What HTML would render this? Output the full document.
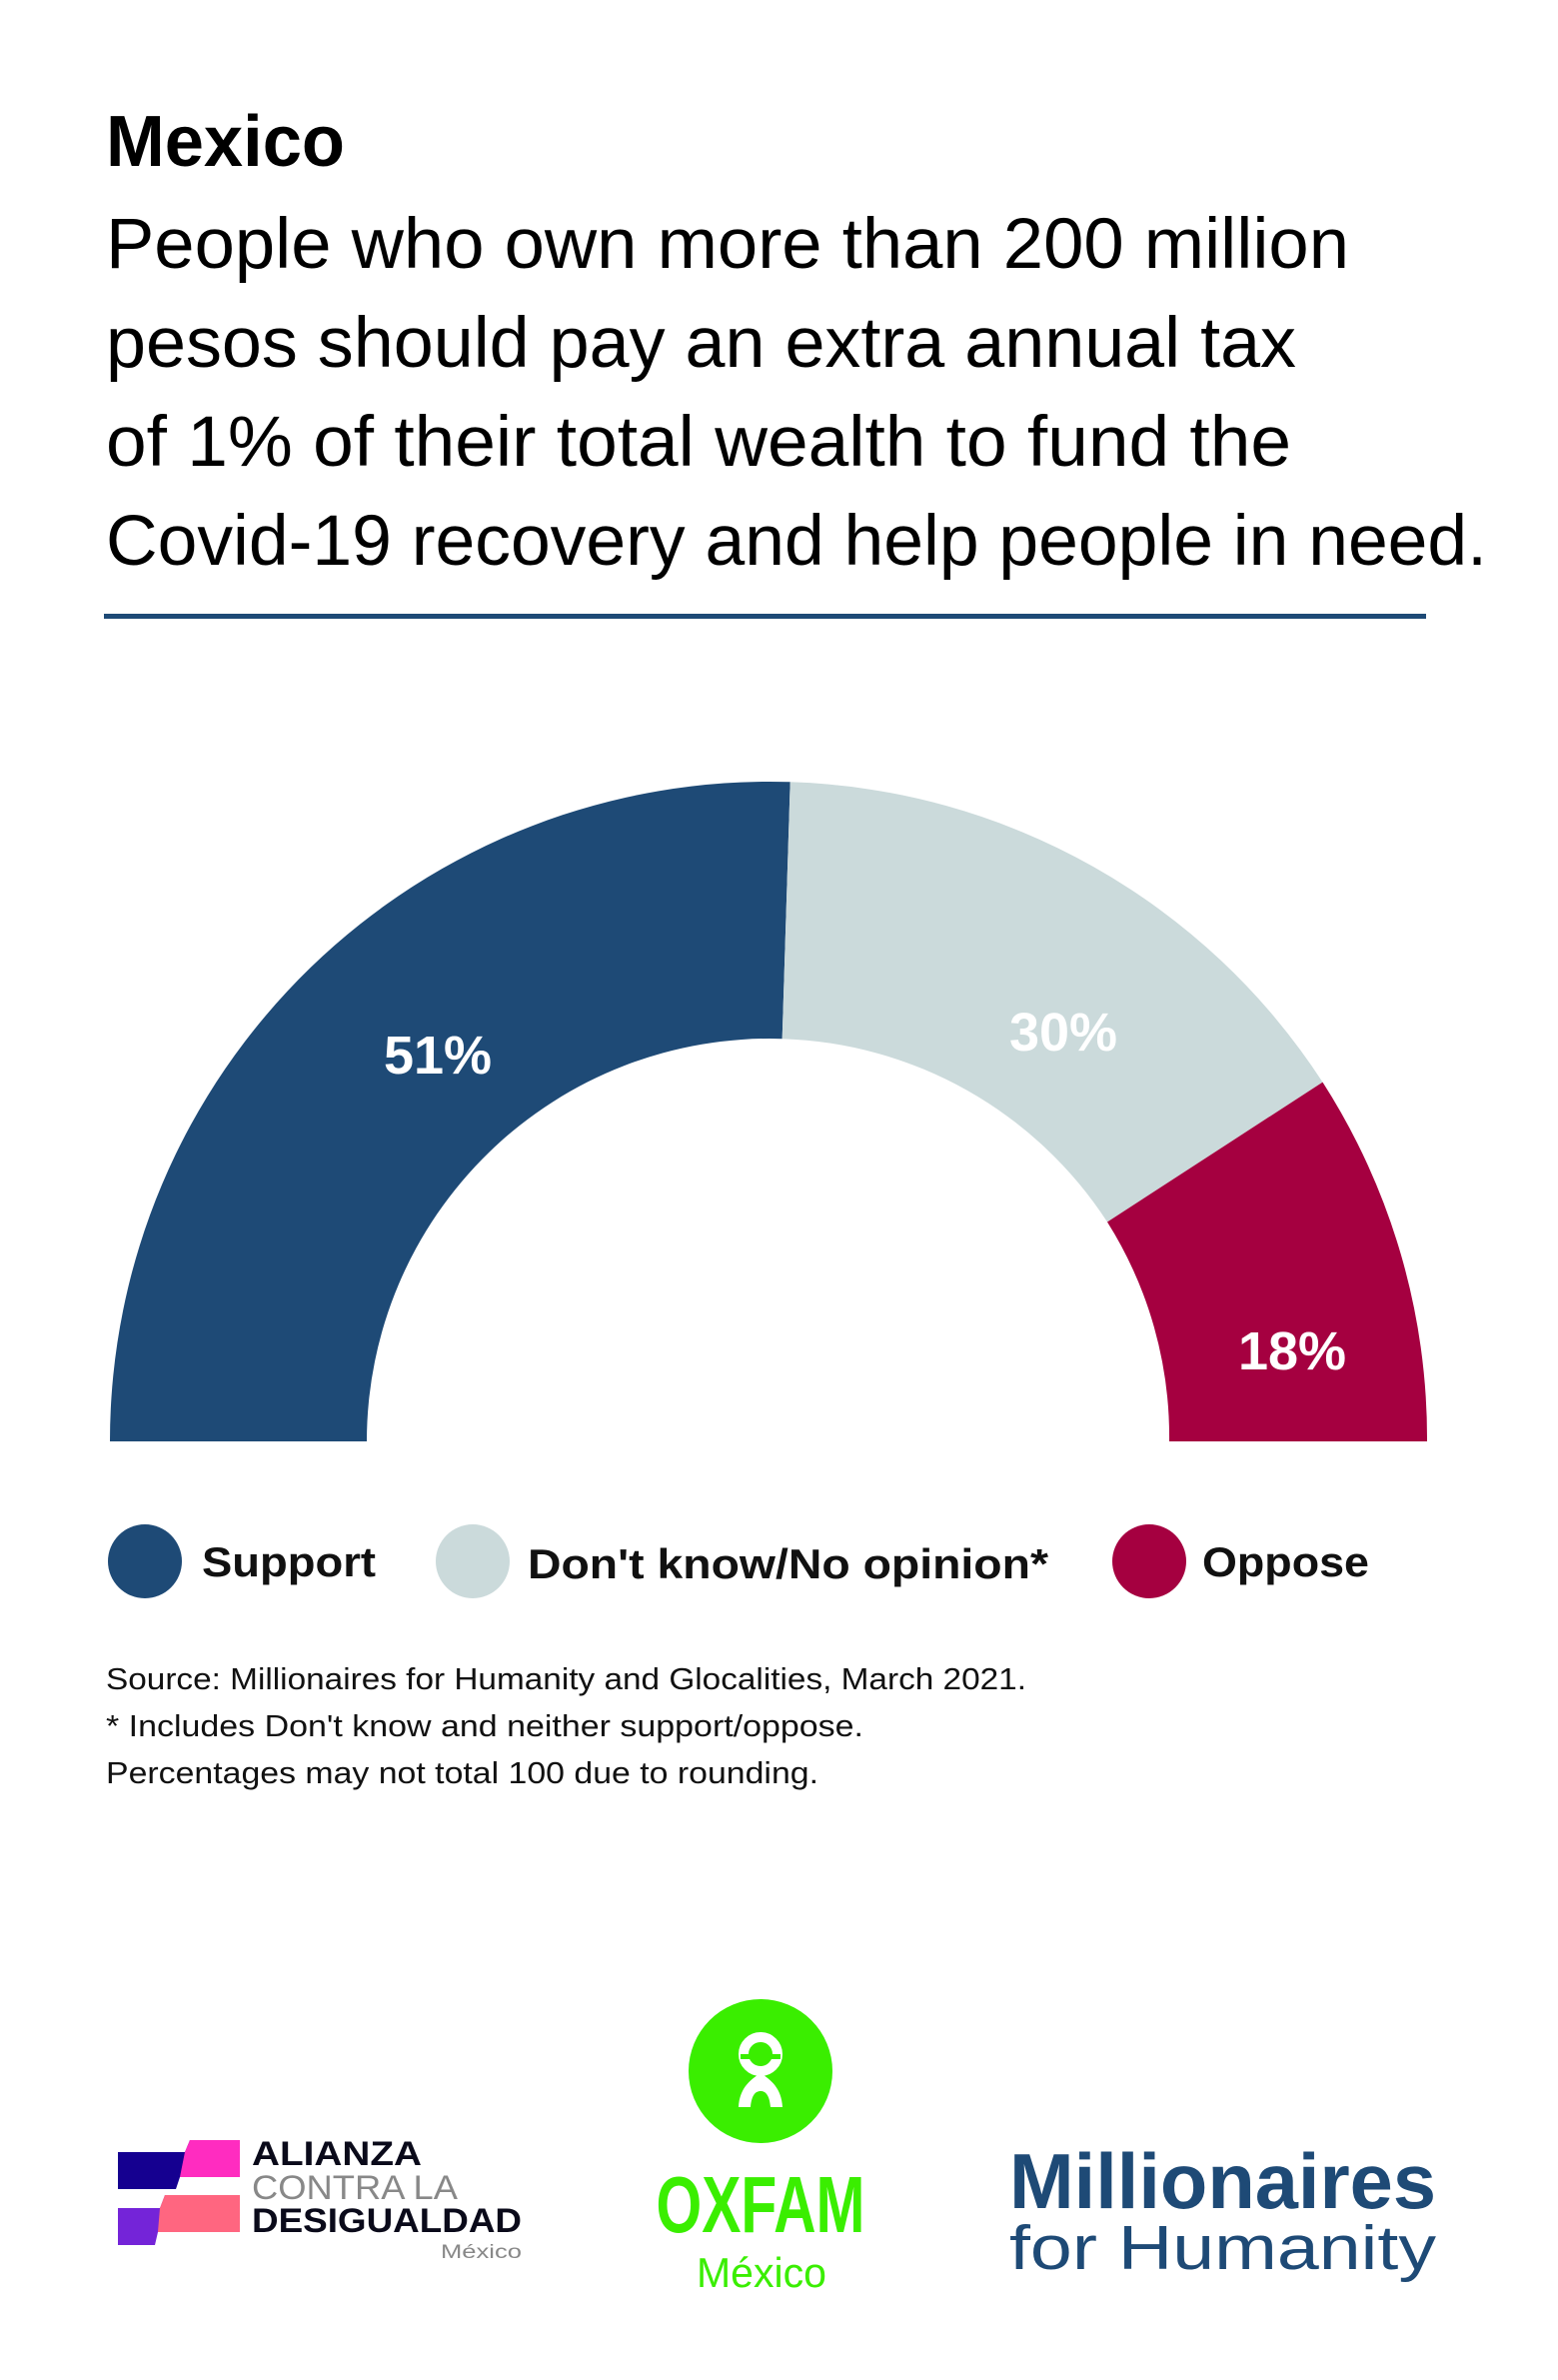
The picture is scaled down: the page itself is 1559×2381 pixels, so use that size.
<!DOCTYPE html>
<html><head><meta charset="utf-8"><style>
html,body{margin:0;padding:0;background:#fff;}
svg{display:block;}
</style></head><body>
<svg width="1559" height="2381" viewBox="0 0 1559 2381" xmlns="http://www.w3.org/2000/svg" font-family="'Liberation Sans', sans-serif">
<rect width="1559" height="2381" fill="#fff"/>
<text x="106" y="166" font-size="72" font-weight="bold" fill="#000" textLength="239" lengthAdjust="spacingAndGlyphs">Mexico</text>
<g font-size="71" fill="#000">
<text x="106" y="268" textLength="1244" lengthAdjust="spacingAndGlyphs">People who own more than 200 million</text>
<text x="106" y="367" textLength="1191" lengthAdjust="spacingAndGlyphs">pesos should pay an extra annual tax</text>
<text x="106" y="466" textLength="1186" lengthAdjust="spacingAndGlyphs">of 1% of their total wealth to fund the</text>
<text x="106" y="565" textLength="1382" lengthAdjust="spacingAndGlyphs">Covid-19 recovery and help people in need.</text>
</g>
<rect x="104" y="614" width="1323" height="5" fill="#1e4a76"/>
<path d="M110,1442 A660,660 0 0 1 790.7,782.3 L782.7,1039.2 A403,403 0 0 0 367,1442 Z" fill="#1e4a76"/>
<path d="M790.7,782.3 A660,660 0 0 1 1323.5,1082.6 L1108,1222.5 A403,403 0 0 0 782.7,1039.2 Z" fill="#cbdadb"/>
<path d="M1323.5,1082.6 A660,660 0 0 1 1428,1442 L1170,1442 A403,403 0 0 0 1108,1222.5 Z" fill="#a50040"/>
<g font-size="54" font-weight="bold" fill="#fff" text-anchor="middle">
<text x="438" y="1074">51%</text>
<text x="1064" y="1051">30%</text>
<text x="1293" y="1370">18%</text>
</g>
<circle cx="145" cy="1562" r="37" fill="#1e4a76"/>
<circle cx="473" cy="1562" r="37" fill="#cbdadb"/>
<circle cx="1150" cy="1562" r="37" fill="#a50040"/>
<g font-size="42" font-weight="bold" fill="#111">
<text x="202" y="1577" textLength="174" lengthAdjust="spacingAndGlyphs">Support</text>
<text x="528" y="1579" textLength="521" lengthAdjust="spacingAndGlyphs">Don't know/No opinion*</text>
<text x="1203" y="1577" textLength="167" lengthAdjust="spacingAndGlyphs">Oppose</text>
</g>
<g font-size="31" fill="#111">
<text x="106" y="1690" textLength="921" lengthAdjust="spacingAndGlyphs">Source: Millionaires for Humanity and Glocalities, March 2021.</text>
<text x="106" y="1737" textLength="758" lengthAdjust="spacingAndGlyphs">* Includes Don't know and neither support/oppose.</text>
<text x="106" y="1784" textLength="713" lengthAdjust="spacingAndGlyphs">Percentages may not total 100 due to rounding.</text>
</g>
<!-- Alianza logo -->
<polygon points="118,2153 185,2153 190,2141 240,2141 240,2178 180,2178 176,2190 118,2190" fill="#150090"/>
<polygon points="185,2153 190,2141 240,2141 240,2178 180,2178" fill="#ff2cc0"/>
<polygon points="118,2209 160,2209 165,2196 240,2196 240,2233 158,2233 155,2246 118,2246" fill="#7424d8"/>
<polygon points="160,2209 165,2196 240,2196 240,2233 158,2233" fill="#ff6680"/>
<text x="252" y="2166" font-size="34" font-weight="bold" fill="#0a0a1a" textLength="170" lengthAdjust="spacingAndGlyphs">ALIANZA</text>
<text x="252" y="2200" font-size="34" fill="#888" textLength="206" lengthAdjust="spacingAndGlyphs">CONTRA LA</text>
<text x="252" y="2233" font-size="34" font-weight="bold" fill="#0a0a1a" textLength="270" lengthAdjust="spacingAndGlyphs">DESIGUALDAD</text>
<text x="441" y="2259" font-size="19" fill="#888" textLength="81" lengthAdjust="spacingAndGlyphs">México</text>
<!-- Oxfam logo -->
<circle cx="761" cy="2072" r="72" fill="#3aee00"/>
<circle cx="761" cy="2055" r="17" fill="none" stroke="#fff" stroke-width="10"/>
<rect x="741" y="2055" width="40" height="5" fill="#3aee00"/>
<path d="M739,2108 C740,2088 752,2080 761,2074 C770,2080 782,2088 783,2108 L771,2108 C770,2096 766,2092 761,2092 C756,2092 752,2096 751,2108 Z" fill="#fff"/>
<text x="761" y="2233" font-size="80" font-weight="bold" fill="#3aee00" text-anchor="middle" textLength="209" lengthAdjust="spacingAndGlyphs">OXFAM</text>
<text x="762" y="2288" font-size="42" fill="#3aee00" text-anchor="middle" textLength="130" lengthAdjust="spacingAndGlyphs">México</text>
<!-- Millionaires logo -->
<text x="1010" y="2209" font-size="78" font-weight="bold" fill="#1e4a76" textLength="427" lengthAdjust="spacingAndGlyphs">Millionaires</text>
<text x="1010" y="2270" font-size="62" fill="#1e4a76" textLength="427" lengthAdjust="spacingAndGlyphs">for Humanity</text>
</svg>
</body></html>
